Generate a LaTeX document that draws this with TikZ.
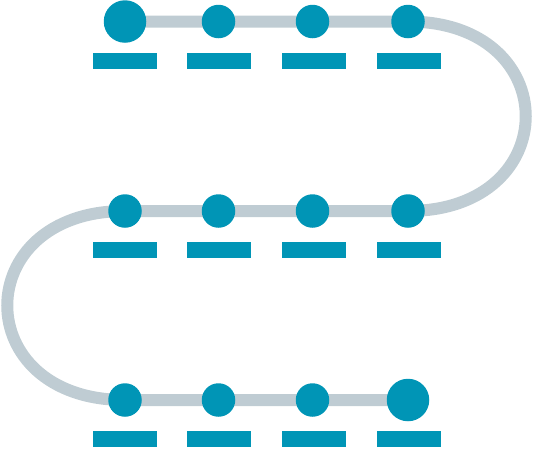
\documentclass[tikz,border=0pt]{standalone}
\definecolor{teal1}{RGB}{0,149,182}
\definecolor{track}{RGB}{191,204,211}
\tikzset{
  dot/.style={circle,fill=teal1,inner sep=0pt,minimum size=33.5pt},
  bigdot/.style={circle,fill=teal1,inner sep=0pt,minimum size=42.5pt},
  bar/.style={fill=teal1,inner sep=0pt,minimum width=64pt,minimum height=16.5pt},
  trackline/.style={draw=track,line width=12pt}
}
\begin{document}
\begin{tikzpicture}[x=1pt,y=-1pt]
\useasboundingbox (0,0) rectangle (533,448);
% coordinates
\foreach \r/\yy in {1/21.5,2/211,3/400}{
  \foreach \c/\xx in {1/125,2/218.5,3/312.5,4/408}{
    \coordinate (p\r\c) at (\xx,\yy);
  }
}
% track
\draw[trackline] (p11) -- (p14) .. controls (565,21.5) and (565,211) .. (p24)
  -- (p21) .. controls (-32,211) and (-32,400) .. (p31) -- (p34);
% dots
\foreach \r in {1,2,3}{
  \foreach \c in {1,2,3,4}{
    \node[dot] (d\r\c) at (p\r\c) {};
  }
}
\node[bigdot] (b1) at (p11) {};
\node[bigdot] (b2) at (p34) {};
% bars
\foreach \r/\yy in {1/61,2/250,3/439}{
  \foreach \c/\xx in {1/125,2/219.3,3/313.7,4/408.5}{
    \node[bar] (s\r\c) at (\xx,\yy) {};
  }
}
\end{tikzpicture}
\end{document}
